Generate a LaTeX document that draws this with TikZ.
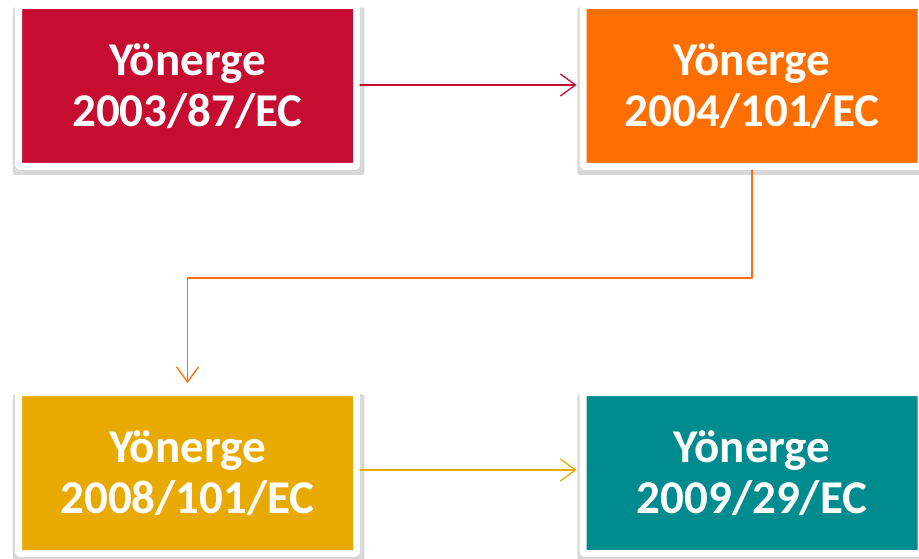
\documentclass[tikz,border=0pt]{standalone}
\usepackage{fontspec}
\setmainfont{Carlito}
\usetikzlibrary{arrows.meta,shadows}
\definecolor{dirred}{HTML}{C60C30}
\definecolor{dirorange}{HTML}{FF6F00}
\definecolor{dirgold}{HTML}{E8AA00}
\definecolor{dirteal}{HTML}{008B8F}
\begin{document}
\begin{tikzpicture}[x=1pt, y=-1pt, line join=round, line cap=round,
  dirbox/.style={draw=white, line width=7pt, rounded corners=1.5pt, minimum width=338pt, minimum height=161pt,
    inner sep=0pt, align=center, text=white, font=\fontsize{47}{51}\selectfont\bfseries,
    drop shadow={shadow scale=1.04, shadow xshift=1pt, shadow yshift=-5pt, opacity=0.22, fill=black!70}},
  link/.style={line width=1.3pt, -{Straight Barb[length=15pt, width=22pt, line width=1.3pt]}}]
\useasboundingbox (0,0) rectangle (919,559);
\begin{scope}
\clip (0,0) rectangle (919,559);
\node[dirbox, fill=dirred] (dir2003) at (187.5,86) {Yönerge\\2003/87/EC};
\node[dirbox, fill=dirorange] (dir2004) at (752,86) {Yönerge\\2004/101/EC};
\node[dirbox, fill=dirgold] (dir2008) at (187.5,473) {Yönerge\\2008/101/EC};
\node[dirbox, fill=dirteal] (dir2009) at (752,473) {Yönerge\\2009/29/EC};
\end{scope}
\draw[link, dirred, shorten >=3pt] (dir2003.east |- 0,85) -- (dir2004.west |- 0,85);
\draw[link, dirorange, shorten >=6pt] (dir2004.south) |- (187.5,278) -- (dir2008.north);
\draw[link, dirgold, shorten >=3pt] (dir2008.east |- 0,470) -- (dir2009.west |- 0,470);
\end{tikzpicture}
\end{document}
